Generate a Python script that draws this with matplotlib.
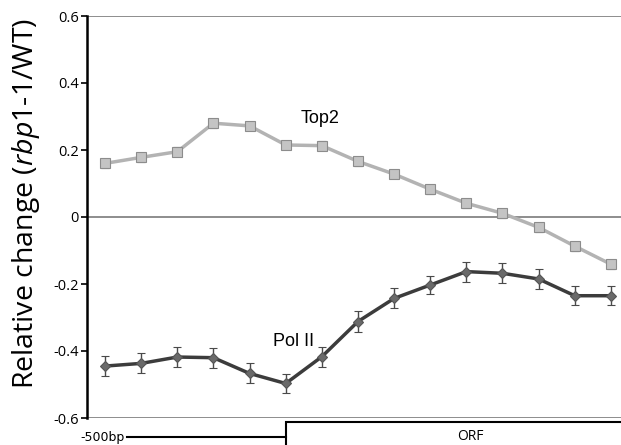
import matplotlib.pyplot as plt
import numpy as np
from matplotlib.lines import Line2D
from matplotlib.patches import Rectangle

plt.rcParams['mathtext.fontset'] = 'custom'
plt.rcParams['mathtext.rm'] = 'Open Sans'
plt.rcParams['mathtext.it'] = 'Open Sans:italic'

# data (15 positions along the gene)
positions = np.arange(15)
top2 = [0.160, 0.178, 0.195, 0.280, 0.272, 0.215, 0.213, 0.166, 0.128,
        0.083, 0.041, 0.011, -0.031, -0.087, -0.141]
top2_err = [0.013] * 15
pol2 = [-0.445, -0.437, -0.418, -0.420, -0.467, -0.497, -0.417, -0.312,
        -0.243, -0.203, -0.163, -0.168, -0.185, -0.235, -0.235]
pol2_err = [0.030, 0.030, 0.030, 0.030, 0.030, 0.028, 0.030, 0.030,
            0.030, 0.028, 0.030, 0.030, 0.030, 0.028, 0.028]
yticks = [-0.6, -0.4, -0.2, 0, 0.2, 0.4, 0.6]
yticklabels = ['-0.6', '-0.4', '-0.2', '0', '0.2', '0.4', '0.6']

W, H = 621, 445
fig = plt.figure(figsize=(W / 100, H / 100), dpi=100)
ax = fig.add_axes([87 / W, 1 - 418 / H, 1 - 87 / W, (418 - 16) / H])

# horizontal reference lines
for yv in (0.6, 0, -0.6):
    ax.axhline(yv, color='#7a7a7a', lw=1.2, zorder=1)

ax.errorbar(positions, top2, yerr=top2_err, color='#b3b3b3', lw=2.5,
            marker='s', ms=6.5, mfc='#c4c4c4', mec='#8c8c8c', mew=0.8,
            ecolor='#3a3a3a', elinewidth=1, capsize=3, capthick=1.5, zorder=3)
ax.errorbar(positions, pol2, yerr=pol2_err, color='#3c3c3c', lw=2.5,
            marker='D', ms=5, mfc='#6a6a6a', mec='#555555', mew=0.8,
            ecolor='#4a4a4a', elinewidth=1, capsize=3, capthick=1.2, zorder=3)

ax.text(5.4, 0.295, 'Top2', fontsize=13, family='Liberation Sans',
        ha='left', va='center')
ax.text(4.65, -0.373, 'Pol II', fontsize=13, family='Liberation Sans',
        ha='left', va='center')

ax.set_xlim(-0.5, 14.28)
ax.set_ylim(-0.6, 0.6)
ax.set_yticks(yticks)
ax.set_yticklabels(yticklabels, fontsize=10.5, family='Open Sans')
ax.set_xticks([])
for s in ('top', 'right', 'bottom'):
    ax.spines[s].set_visible(False)
ax.spines['left'].set_linewidth(1.8)
ax.tick_params(axis='y', direction='out', length=4, width=1.2, pad=2)

fig.text(26 / W, 1 - 203 / H,
         r'Relative change ($\mathit{rbp1}$-$\mathit{1}$/WT)', rotation=90,
         fontsize=20.5, family='Open Sans', ha='center', va='center')

# gene diagram under the axis
fig.text(80 / W, 1 - 437 / H, '-500bp', fontsize=9, family='DejaVu Sans',
         ha='left', va='center')
fig.add_artist(Line2D([127 / W, 286 / W], [1 - 437 / H, 1 - 437 / H],
                      color='black', lw=1.5))
fig.add_artist(Rectangle((286 / W, -0.05), 1, 1 - 422 / H + 0.05,
                         transform=fig.transFigure, fill=False,
                         edgecolor='black', lw=1.5))
fig.text(470 / W, 1 - 437 / H, 'ORF', fontsize=10, family='Open Sans',
         ha='center', va='center')

fig.savefig('out.png', dpi=100)
